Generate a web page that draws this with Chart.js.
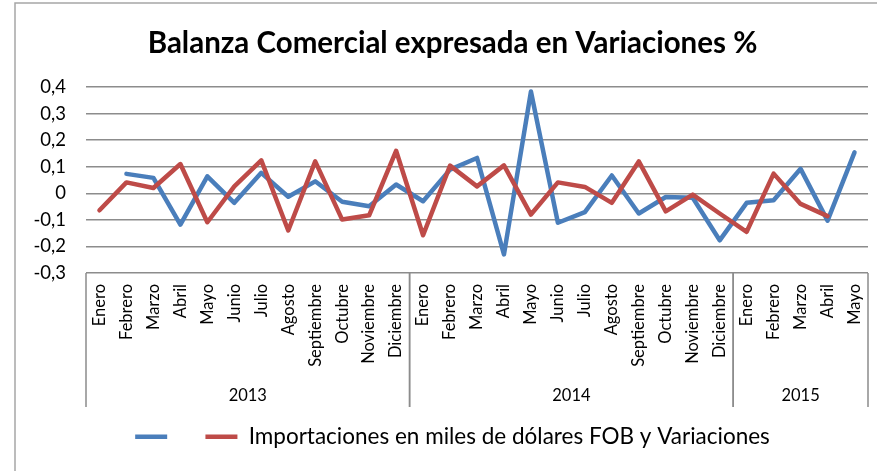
<!DOCTYPE html>
<html>
<head>
<meta charset="utf-8">
<script src="https://cdn.jsdelivr.net/npm/chart.js@4"></script>
<style>
  html, body { margin: 0; padding: 0; background: #fff; }
  #wrap { width: 877px; height: 471px; }
</style>
</head>
<body>
<div id="wrap"><canvas id="chart" width="877" height="471"></canvas></div>
<script>
// Category labels (months, grouped by year)
const months = [
    'Enero', 'Febrero', 'Marzo', 'Abril', 'Mayo', 'Junio', 'Julio', 'Agosto',
    'Septiembre', 'Octubre', 'Noviembre', 'Diciembre',
    'Enero', 'Febrero', 'Marzo', 'Abril', 'Mayo', 'Junio', 'Julio', 'Agosto',
    'Septiembre', 'Octubre', 'Noviembre', 'Diciembre',
    'Enero', 'Febrero', 'Marzo', 'Abril', 'Mayo'
];
const years = ['2013', '2014', '2015'];
const monthsPerYear = [12, 12, 5];

// Series values
const blueLabel = '';
const blueValues = [
    null, 0.073, 0.058, -0.118, 0.064, -0.036, 0.077, -0.013, 0.045, -0.032, -0.049, 0.033,
    -0.030, 0.089, 0.133, -0.230, 0.383, -0.111, -0.071, 0.067, -0.076, -0.014, -0.017, -0.177,
    -0.036, -0.026, 0.092, -0.103, 0.154
];
const redLabel = 'Importaciones en miles de dólares FOB y Variaciones';
const redValues = [
    -0.064, 0.041, 0.020, 0.110, -0.109, 0.026, 0.124, -0.140, 0.120, -0.099, -0.083, 0.160,
    -0.158, 0.104, 0.026, 0.105, -0.080, 0.041, 0.024, -0.036, 0.120, -0.068, -0.005, -0.076,
    -0.145, 0.074, -0.040, -0.086, null
];

const FONT = 'Lato';
const GRID = '#8c8c8c';

// Frame around the whole chart
const framePlugin = {
    id: 'frame',
    beforeDraw(chart) {
        const ctx = chart.ctx;
        ctx.save();
        ctx.fillStyle = '#fff';
        ctx.fillRect(0, 0, chart.width, chart.height);
        ctx.strokeStyle = '#a6a6a6';
        ctx.lineWidth = 1.5;
        ctx.strokeRect(15, 3, chart.width + 20, chart.height + 20);
        ctx.restore();
    }
};

// Second level of the category axis: year boxes
const yearBoxPlugin = {
    id: 'yearBox',
    afterDraw(chart) {
        const { ctx, chartArea } = chart;
        const x = chart.scales.x;
        const top = chartArea.bottom;
        const bottom = top + 134;
        const half = (x.getPixelForValue(1) - x.getPixelForValue(0)) / 2;
        ctx.save();
        ctx.strokeStyle = GRID;
        ctx.lineWidth = 1.5;
        ctx.fillStyle = '#000';
        ctx.font = '16.5px ' + FONT;
        ctx.textAlign = 'center';
        ctx.textBaseline = 'middle';
        let start = 0;
        years.forEach((year, i) => {
            const left = x.getPixelForValue(start) - half;
            const right = x.getPixelForValue(start + monthsPerYear[i] - 1) + half;
            ctx.beginPath();
            ctx.moveTo(left, top);
            ctx.lineTo(left, bottom);
            ctx.moveTo(right, top);
            ctx.lineTo(right, bottom);
            ctx.stroke();
            ctx.fillText(year, (left + right) / 2, top + 123);
            start += monthsPerYear[i];
        });
        ctx.restore();
    }
};

new Chart(document.getElementById('chart'), {
    type: 'line',
    data: {
        labels: months,
        datasets: [
            {
                label: blueLabel,
                data: blueValues,
                borderColor: '#4a7ebb',
                backgroundColor: '#4a7ebb',
                borderWidth: 4.5,
                borderCapStyle: 'round',
                borderJoinStyle: 'round',
                pointRadius: 0,
                tension: 0,
                order: 1
            },
            {
                label: redLabel,
                data: redValues,
                borderColor: '#be4b48',
                backgroundColor: '#be4b48',
                borderWidth: 4.5,
                borderCapStyle: 'round',
                borderJoinStyle: 'round',
                pointRadius: 0,
                tension: 0,
                order: 0
            }
        ]
    },
    options: {
        responsive: false,
        animation: false,
        layout: { padding: { left: 28, right: 0, top: 0, bottom: 13 } },
        plugins: {
            title: {
                display: true,
                text: 'Balanza Comercial expresada en Variaciones %',
                color: '#000',
                font: { family: FONT, size: 29.5, weight: 'bold' },
                padding: { top: 26, bottom: 25.6 }
            },
            legend: {
                position: 'bottom',
                labels: {
                    color: '#000',
                    font: { family: FONT, size: 22.5 },
                    usePointStyle: true,
                    pointStyle: 'line',
                    pointStyleWidth: 32,
                    padding: 27,
                    sort: (a, b) => a.datasetIndex - b.datasetIndex
                }
            },
            tooltip: { enabled: false }
        },
        scales: {
            x: {
                offset: true,
                grid: { display: false, drawTicks: false },
                border: { display: false },
                ticks: {
                    color: '#000',
                    font: { family: FONT, size: 16.5 },
                    minRotation: 90,
                    maxRotation: 90,
                    autoSkip: false,
                    padding: 11
                },
                afterFit(scale) {
                    scale.height = 125.5;
                    scale.paddingLeft = 0;
                    scale.paddingRight = 9;
                }
            },
            y: {
                min: -0.3,
                max: 0.4,
                grid: { color: GRID, lineWidth: 1.5, drawTicks: false },
                border: { display: false },
                ticks: {
                    stepSize: 0.1,
                    color: '#000',
                    font: { family: FONT, size: 18.5 },
                    padding: 20,
                    callback: (v) => {
                        const r = Math.round(v * 10) / 10;
                        return r === 0 ? '0' : r.toFixed(1).replace('.', ',');
                    }
                },
                afterFit(scale) { scale.width = 58; }
            }
        }
    },
    plugins: [framePlugin, yearBoxPlugin]
});
</script>
</body>
</html>
